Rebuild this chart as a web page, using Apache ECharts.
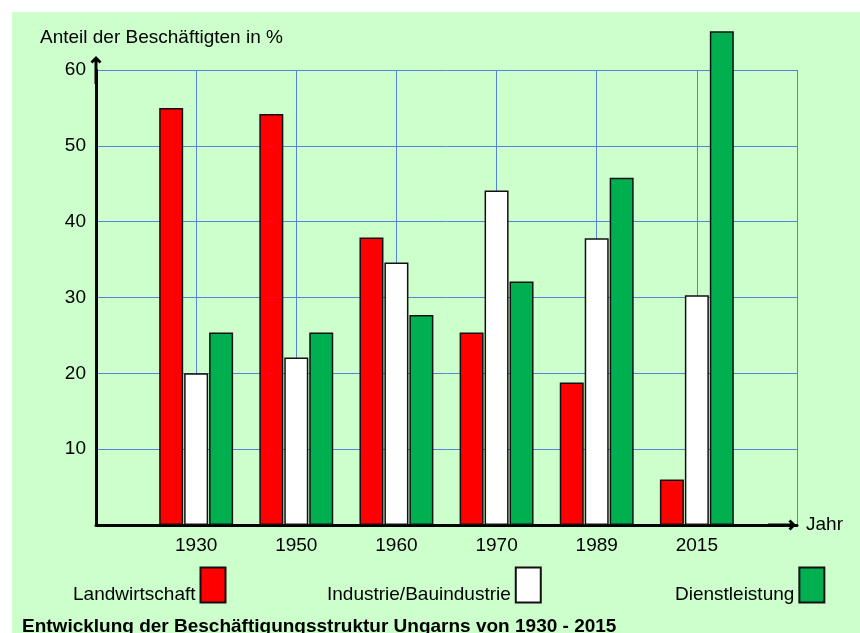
<!DOCTYPE html>
<html>
<head>
<meta charset="utf-8">
<script src="https://cdn.jsdelivr.net/npm/echarts@6/dist/echarts.min.js"></script>
<style>
    html, body { margin: 0; padding: 0; background: #fff; }
    #bg { position: absolute; left: 12px; top: 12px; width: 848px; height: 621px; background: #ccffcc; }
    #chart { position: absolute; left: 0; top: 0; width: 860px; height: 633px; }
</style>
</head>
<body>
<div id="bg"></div>
<div id="chart"></div>
<script>
var years = ['1930', '1950', '1960', '1970', '1989', '2015'];
var landwirtschaft = [55.0, 54.2, 37.9, 25.4, 18.8, 6.0];
var industrie = [20.0, 22.1, 34.6, 44.1, 37.8, 30.3];
var dienstleistung = [25.4, 25.4, 27.7, 32.1, 45.8, 65.1];
var yTicks = [10, 20, 30, 40, 50, 60];

var font = '"Liberation Sans", Arial, sans-serif';
var gridBlue = '#5784d6';
// Pfeil mit Schaft, zeigt nach oben (wird von ECharts gedreht)
var arrowPath = 'path://M5.5 0 L11 5.5 L9 7.5 L7 5.5 L7 28 L4 28 L4 5.5 L2 7.5 L0 5.5 Z';

// leere Kategorie vorne und hinten, damit die Jahre auf den Gitterlinien liegen
var pad = function (list, fill) {
    return [fill].concat(list, [fill]);
};

var makeBar = function (name, data, color) {
    return {
        name: name,
        type: 'bar',
        data: pad(data, '-'),
        barWidth: 24,
        barGap: '4%',
        clip: false,
        itemStyle: {
            color: color,
            borderColor: '#111',
            borderWidth: 1.5
        }
    };
};

var makeLegend = function (name, left) {
    return {
        data: [{ name: name, icon: 'rect' }],
        left: left,
        top: 565,
        padding: 0,
        align: 'right',
        itemWidth: 25,
        itemHeight: 35,
        selectedMode: false,
        formatter: function (n) {
            // Text unten am Kästchen ausrichten
            return '\n' + n;
        },
        textStyle: {
            fontFamily: font,
            fontSize: 19,
            lineHeight: 20,
            color: '#000'
        }
    };
};

var chart = echarts.init(document.getElementById('chart'));
var option = {
    backgroundColor: 'transparent',
    animation: false,
    title: [{
        text: 'Anteil der Beschäftigten in %',
        left: 40,
        top: 28,
        padding: 0,
        textStyle: { fontFamily: font, fontSize: 19, fontWeight: 'normal', color: '#000' }
    }, {
        text: 'Entwicklung der Beschäftigungsstruktur Ungarns von 1930 - 2015',
        left: 22,
        top: 617,
        padding: 0,
        textStyle: { fontFamily: font, fontSize: 19, fontWeight: 'bold', color: '#000' }
    }],
    legend: [
        makeLegend('Landwirtschaft', 73),
        makeLegend('Industrie/Bauindustrie', 327),
        makeLegend('Dienstleistung', 675)
    ],
    grid: {
        left: 96,
        right: 63,
        top: 70,
        bottom: 108
    },
    xAxis: {
        type: 'category',
        boundaryGap: false,
        data: pad(years, ''),
        name: 'Jahr',
        nameLocation: 'end',
        nameGap: 9,
        nameTextStyle: { fontFamily: font, fontSize: 19, color: '#000', padding: [16, 0, 0, 0] },
        axisLine: {
            symbol: ['none', arrowPath],
            symbolSize: [11, 28],
            symbolOffset: [0, -15],
            lineStyle: { color: '#000', width: 3 }
        },
        axisTick: { show: false },
        axisLabel: { fontFamily: font, fontSize: 19, color: '#000', margin: 11, interval: 0 },
        splitLine: { show: true, interval: 0, lineStyle: { color: gridBlue, width: 1 } }
    },
    yAxis: {
        type: 'value',
        min: 0,
        max: 60,
        interval: 10,
        axisLine: {
            show: true,
            symbol: ['none', arrowPath],
            symbolSize: [11, 28],
            symbolOffset: [0, 0],
            lineStyle: { color: '#000', width: 3 }
        },
        axisTick: { show: false },
        axisLabel: {
            fontFamily: font,
            fontSize: 19,
            color: '#000',
            margin: 10,
            formatter: function (v) {
                return yTicks.indexOf(v) >= 0 ? String(v) : '';
            }
        },
        splitLine: { show: true, lineStyle: { color: gridBlue, width: 1 } }
    },
    series: [
        makeBar('Landwirtschaft', landwirtschaft, '#ff0000'),
        makeBar('Industrie/Bauindustrie', industrie, '#ffffff'),
        makeBar('Dienstleistung', dienstleistung, '#00b050')
    ]
};
chart.setOption(option);
</script>
</body>
</html>
